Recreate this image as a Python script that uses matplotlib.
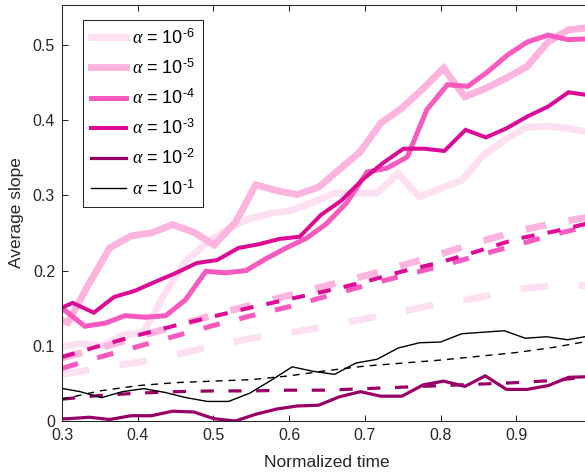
import matplotlib
matplotlib.use('Agg')
import matplotlib.pyplot as plt

plt.rcParams['font.family'] = ['Liberation Sans', 'DejaVu Sans']
plt.rcParams['mathtext.fontset'] = 'custom'
plt.rcParams['mathtext.rm'] = 'Liberation Sans'
plt.rcParams['mathtext.it'] = 'Liberation Serif:italic'
plt.rcParams['lines.scale_dashes'] = False

# time grids (each run has its own sampling)
t_a = [0.296, 0.324, 0.352, 0.380, 0.408, 0.436, 0.464, 0.492, 0.520, 0.548, 0.576, 0.604, 0.632,
       0.660, 0.688, 0.716, 0.744, 0.772, 0.800, 0.828, 0.856, 0.884, 0.912, 0.940, 0.968, 0.996]
t_b = [0.281, 0.308, 0.336, 0.363, 0.391, 0.418, 0.446, 0.474, 0.501, 0.529, 0.556, 0.584, 0.611, 0.639,
       0.666, 0.694, 0.721, 0.749, 0.777, 0.804, 0.832, 0.859, 0.887, 0.914, 0.942, 0.969, 0.997]
t_c = [0.287, 0.314, 0.342, 0.369, 0.396, 0.423, 0.451, 0.478, 0.505, 0.533, 0.560, 0.587, 0.614, 0.642,
       0.669, 0.696, 0.724, 0.751, 0.778, 0.805, 0.833, 0.860, 0.887, 0.915, 0.942, 0.969, 0.996]
t_d = [0.277, 0.304, 0.330, 0.357, 0.383, 0.410, 0.437, 0.463, 0.490, 0.516, 0.543, 0.570, 0.596, 0.623,
       0.649, 0.676, 0.703, 0.729, 0.756, 0.782, 0.809, 0.836, 0.862, 0.889, 0.915, 0.942, 0.968, 0.995]

# measured average slope
slope_1e6 = [0.098, 0.103, 0.100, 0.114, 0.118, 0.170, 0.213, 0.237, 0.256, 0.269, 0.276, 0.280, 0.291,
             0.303, 0.303, 0.303, 0.329, 0.298, 0.309, 0.320, 0.353, 0.373, 0.390, 0.392, 0.389, 0.384]
slope_1e5 = [0.140, 0.131, 0.183, 0.230, 0.246, 0.250, 0.261, 0.251, 0.234, 0.264, 0.314, 0.306, 0.301, 0.311,
             0.334, 0.358, 0.396, 0.416, 0.442, 0.469, 0.431, 0.442, 0.456, 0.471, 0.504, 0.520, 0.523]
slope_1e4 = [0.152, 0.147, 0.126, 0.130, 0.140, 0.138, 0.140, 0.161, 0.199, 0.197, 0.200, 0.216, 0.230, 0.243,
             0.262, 0.290, 0.331, 0.336, 0.351, 0.414, 0.447, 0.445, 0.464, 0.487, 0.504, 0.513, 0.507, 0.508]
slope_1e3 = [0.145, 0.157, 0.144, 0.165, 0.173, 0.185, 0.197, 0.210, 0.214, 0.230, 0.235, 0.242, 0.245, 0.274,
             0.293, 0.320, 0.343, 0.362, 0.362, 0.359, 0.387, 0.377, 0.389, 0.405, 0.418, 0.437, 0.433]
slope_1e2 = [0.003, 0.003, 0.005, 0.002, 0.007, 0.007, 0.013, 0.012, 0.003, 0.000, 0.009, 0.016, 0.020, 0.021,
             0.032, 0.039, 0.033, 0.033, 0.048, 0.053, 0.046, 0.060, 0.042, 0.042, 0.047, 0.058, 0.059]
slope_1e1 = [0.044, 0.039, 0.031, 0.039, 0.043, 0.038, 0.031, 0.026, 0.026, 0.037, 0.054, 0.072, 0.066,
             0.062, 0.077, 0.082, 0.097, 0.104, 0.105, 0.116, 0.118, 0.120, 0.110, 0.112, 0.108, 0.113]

# model curves (dashed)
t_fit = [0.30, 0.35, 0.40, 0.45, 0.50, 0.55, 0.60, 0.65, 0.70, 0.75, 0.80, 0.85, 0.90, 0.95, 1.00]
fit_1e6 = [0.062, 0.070, 0.078, 0.088, 0.100, 0.110, 0.117, 0.126, 0.136, 0.146, 0.156, 0.164, 0.175, 0.180, 0.180]
fit_1e5 = [0.084, 0.097, 0.112, 0.126, 0.141, 0.154, 0.167, 0.180, 0.193, 0.207, 0.222, 0.238, 0.252, 0.263, 0.272]
fit_1e4 = [0.070, 0.085, 0.099, 0.113, 0.127, 0.140, 0.152, 0.166, 0.180, 0.193, 0.206, 0.220, 0.234, 0.248, 0.260]
fit_1e3 = [0.085, 0.100, 0.114, 0.127, 0.139, 0.151, 0.162, 0.173, 0.185, 0.199, 0.211, 0.226, 0.242, 0.252, 0.264]
fit_1e2 = [0.029, 0.034, 0.037, 0.039, 0.040, 0.040, 0.041, 0.041, 0.043, 0.045, 0.047, 0.049, 0.051, 0.054, 0.059]
fit_1e1 = [0.029, 0.040, 0.047, 0.051, 0.053, 0.055, 0.060, 0.067, 0.073, 0.077, 0.081, 0.086, 0.091, 0.098, 0.107]

exponents = ['6', '5', '4', '3', '2', '1']

series = [
    (t_a, slope_1e6, fit_1e6, '#fde0f1', 5.0, (20, 22)),
    (t_b, slope_1e5, fit_1e5, '#fdb4df', 5.0, (15, 16.5)),
    (t_d, slope_1e4, fit_1e4, '#f85abf', 3.6, (12, 14.5)),
    (t_c, slope_1e3, fit_1e3, '#dc0a94', 2.9, (9.5, 9.5)),
    (t_b, slope_1e2, fit_1e2, '#990066', 2.3, (9.5, 10.5)),
    (t_a, slope_1e1, fit_1e1, '#000000', 1.0, (5, 4.3)),
]

fig = plt.figure(figsize=(5.85, 4.75), dpi=100)
ax = fig.add_axes([62 / 585, 54 / 475, 530 / 585, 416 / 475])

for (t, y, f, col, lw, dash), ex in zip(series, exponents):
    ax.plot(t, y, color=col, lw=lw, solid_joinstyle='miter',
            label=r'$\alpha$ = 10$^{\mathregular{' + '\u2010' + ex + '}}$')
    ax.plot(t_fit, f, color=col, lw=lw, dashes=dash, dash_capstyle='butt')

ax.set_xlim(0.3, 1.0)
ax.set_ylim(0, 0.553)
ax.set_xticks([0.3, 0.4, 0.5, 0.6, 0.7, 0.8, 0.9, 1.0])
ax.set_xticklabels(['0.3', '0.4', '0.5', '0.6', '0.7', '0.8', '0.9', ''])
ax.set_yticks([0, 0.1, 0.2, 0.3, 0.4, 0.5])
ax.set_yticklabels(['0', '0.1', '0.2', '0.3', '0.4', '0.5'])

edge = '#262626'
for s in ax.spines.values():
    s.set_color(edge)
    s.set_linewidth(0.75)
ax.tick_params(direction='in', length=4, width=0.75, color=edge, labelcolor=edge,
               labelsize=11.5, top=True, right=True, pad=5)

ax.set_xlabel('Normalized time', fontsize=12.5, color=edge, labelpad=9)
ax.set_ylabel('Average slope', fontsize=12.5, color=edge, labelpad=6)

leg = ax.legend(loc='upper left', bbox_to_anchor=(21 / 530, 401 / 416), borderaxespad=0,
                fontsize=13, fancybox=False, framealpha=1, edgecolor=edge,
                handlelength=1.95, handletextpad=0.3, labelspacing=0.6, borderpad=0.45)
leg.get_frame().set_linewidth(0.75)

fig.savefig('out.png', dpi=100)
